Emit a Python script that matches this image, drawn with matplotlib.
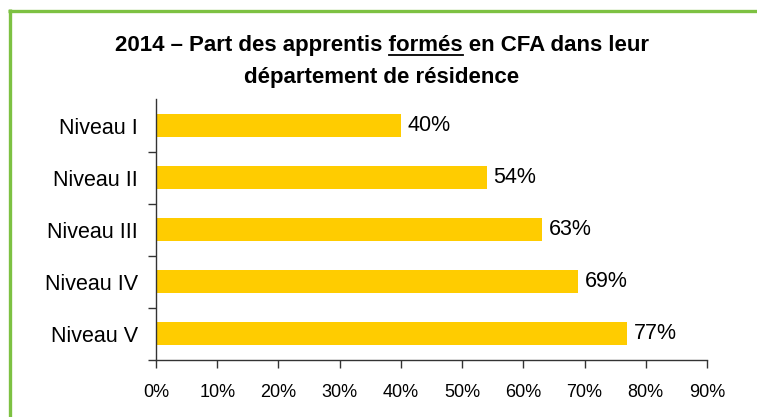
import matplotlib.pyplot as plt
from matplotlib import font_manager
from matplotlib.lines import Line2D

# data
niveaux = ["Niveau I", "Niveau II", "Niveau III", "Niveau IV", "Niveau V"]
parts = [40, 54, 63, 69, 77]
xticks = [0, 10, 20, 30, 40, 50, 60, 70, 80, 90]

names = {f.name for f in font_manager.fontManager.ttflist}
narrow = "Liberation Sans Narrow" if "Liberation Sans Narrow" in names else "Liberation Sans"
regular = "Liberation Sans"

W, H = 757, 417
fig = plt.figure(figsize=(W / 100, H / 100), dpi=100)

# green frame
fig.add_artist(Line2D([9.5 / W, 9.5 / W], [0, 1 - 9 / H], transform=fig.transFigure,
                      color="#7DC142", lw=2.4, solid_capstyle="butt"))
fig.add_artist(Line2D([8 / W, 1], [1 - 10.5 / H, 1 - 10.5 / H], transform=fig.transFigure,
                      color="#7DC142", lw=2.4, solid_capstyle="butt"))

x0, x1 = 156, 707
y0, y1 = 99.5, 360
ax = fig.add_axes([x0 / W, 1 - y1 / H, (x1 - x0) / W, (y1 - y0) / H])

ypos = list(range(len(niveaux)))
ax.barh(ypos, parts, height=0.44, color="#FFCC00")
for y, v in zip(ypos, parts):
    ax.text(v + 1.1, y, f"{v}%", va="center", ha="left", fontsize=15.5,
            family=regular, color="black")

ax.set_xlim(0, 90)
ax.set_ylim(4.5, -0.5)
ax.set_xticks(xticks)
ax.set_xticklabels([f"{t}%" for t in xticks], family=narrow, fontsize=13)
ax.set_yticks(ypos)
ax.set_yticklabels(niveaux, family=regular, fontsize=15.5)
ax.set_yticks([0.5, 1.5, 2.5, 3.5, 4.5], minor=True)
ax.tick_params(axis="y", which="major", length=0, pad=13)
ax.tick_params(axis="y", which="minor", length=6, width=1, color="#333333")
ax.tick_params(axis="x", length=6, width=1, color="#333333", pad=11)
for s in ["top", "right"]:
    ax.spines[s].set_visible(False)
for s in ["left", "bottom"]:
    ax.spines[s].set_color("#333333")
    ax.spines[s].set_linewidth(1)

# title with underlined word
line1_a = "2014 \u2013 Part des apprentis "
word = "formés"
line1_b = " en CFA dans leur"
tkw = dict(family=narrow, fontweight="bold", fontsize=16, color="black",
           va="center", transform=fig.transFigure)
t_full = fig.text(382 / W, 1 - 45 / H, line1_a + word + line1_b, ha="center", **tkw)
fig.text(382 / W, 1 - 78 / H, "département de résidence", ha="center", **tkw)

fig.canvas.draw()
r = fig.canvas.get_renderer()
bb_full = t_full.get_window_extent(r)
tmp = fig.text(0, 0, line1_a, **{k: v for k, v in tkw.items() if k != "transform"})
w_a = tmp.get_window_extent(r).width
tmp.set_text(line1_a + word)
w_ab = tmp.get_window_extent(r).width
tmp.remove()
ux0 = (bb_full.x0 + w_a) / W
ux1 = (bb_full.x0 + w_ab) / W
uy = (bb_full.y0 + 1) / H
fig.add_artist(Line2D([ux0, ux1], [uy, uy], transform=fig.transFigure, color="black", lw=1.3))

fig.savefig("out.png", dpi=100)
